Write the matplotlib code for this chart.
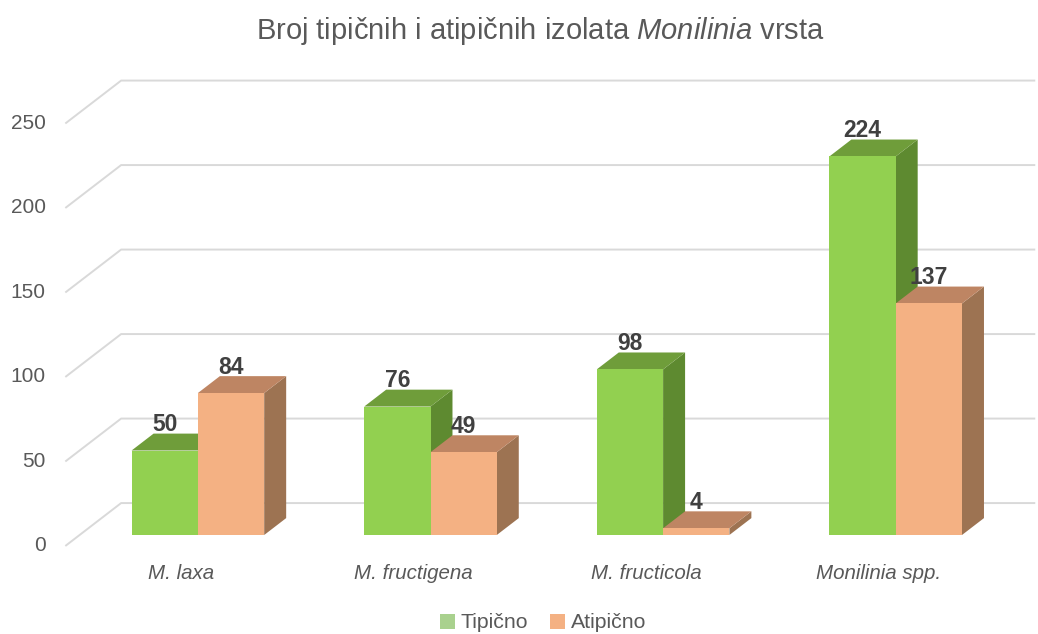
import matplotlib
matplotlib.use('Agg')
import matplotlib.pyplot as plt
from matplotlib.patches import Polygon, Patch

plt.rcParams['font.family'] = ['Liberation Sans', 'DejaVu Sans']
plt.rcParams['mathtext.fontset'] = 'custom'
plt.rcParams['mathtext.rm'] = 'Liberation Sans'
plt.rcParams['mathtext.it'] = 'Liberation Sans:italic'

# ── Data ──────────────────────────────────────────────────────────────────────
categories = ['M. laxa', 'M. fructigena', 'M. fructicola', 'Monilinia spp.']
tipicno    = [50, 76, 98, 224]
atipicno   = [84, 49, 4, 137]
series_names = ['Tipično', 'Atipično']
yticks = [0, 50, 100, 150, 200, 250]

# ── Style ─────────────────────────────────────────────────────────────────────
GREEN = ('#92D050', '#6F9D3A', '#5E8A30')    # front, top, side
ORANGE = ('#F4B183', '#BE8563', '#9D7352')
LEG_COLORS = ['#A9D18E', '#F4B183']
C_TEXT = '#595959'
C_LABEL = '#404040'
C_GRID = '#D9D9D9'

BAR_W = 0.285
DX, DY = 0.0945, 10.0          # bar depth offset (data units)
FLOOR_FRONT = (-0.06, -6.5)    # floor front edge relative to bar plane
FLOOR_BACK = (0.18, 18.9)      # floor back edge relative to bar plane
WALL_X = -0.51
RIGHT_X = 3.6

W, H = 1038, 634
fig = plt.figure(figsize=(W / 100, H / 100), dpi=100)
ax = fig.add_axes([81.6 / W, 99 / H, (1012 - 81.6) / W, 507 / H])
ax.set_xlim(-0.5, 3.5)
ax.set_ylim(0, 300)
ax.axis('off')

# gridlines (perspective floor/wall)
for v in yticks:
    x0, y0 = WALL_X + FLOOR_FRONT[0], v + FLOOR_FRONT[1]
    x1, y1 = WALL_X + FLOOR_BACK[0], v + FLOOR_BACK[1]
    ax.plot([x0, x1, RIGHT_X], [y0, y1, y1], color=C_GRID, lw=1.4,
            clip_on=False, zorder=0, solid_capstyle='butt')
    ax.text(-0.655, y0, str(v), ha='right', va='center', fontsize=15,
            color=C_TEXT, clip_on=False)


def bar3d(x0, v, cols):
    x1 = x0 + BAR_W
    front, top, side = cols
    ax.add_patch(Polygon([(x1, 0), (x1 + DX, DY), (x1 + DX, v + DY), (x1, v)],
                         closed=True, facecolor=side, edgecolor='none', zorder=2))
    ax.add_patch(Polygon([(x0, v), (x0 + DX, v + DY), (x1 + DX, v + DY), (x1, v)],
                         closed=True, facecolor=top, edgecolor='none', zorder=2))
    ax.add_patch(Polygon([(x0, 0), (x0, v), (x1, v), (x1, 0)],
                         closed=True, facecolor=front, edgecolor='none', zorder=2))
    ax.text(x0 + BAR_W / 2, v + DY - 1.5, str(v), ha='center', va='bottom',
            fontsize=16.5, fontweight='bold', color=C_LABEL, zorder=5)


for i, cat in enumerate(categories):
    bar3d(i - BAR_W, tipicno[i], GREEN)
    bar3d(i, atipicno[i], ORANGE)
    ax.text(i - 0.073, -23, cat, ha='center', va='center', fontsize=14.8,
            fontstyle='italic', color=C_TEXT, clip_on=False)

# title
fig.text(540 / W, 1 - 31 / H,
         r'Broj tipičnih i atipičnih izolata $\it{Monilinia}$ vrsta',
         ha='center', va='center', fontsize=21, color=C_TEXT)

# legend
handles = [Patch(facecolor=c, edgecolor='none') for c in LEG_COLORS]
fig.legend(handles, series_names, loc='center', bbox_to_anchor=(543 / W, 1 - 623 / H),
           ncol=2, frameon=False, fontsize=15.3, handlelength=0.7, handleheight=0.7,
           handletextpad=0.3, columnspacing=1.0, labelcolor=C_TEXT)

fig.savefig('out.png', dpi=100, facecolor='white')
